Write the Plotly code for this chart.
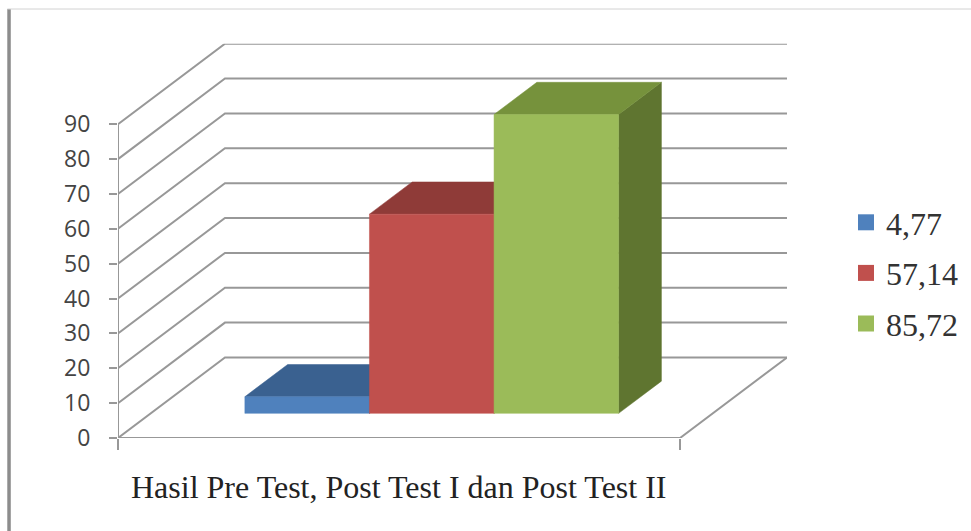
import plotly.graph_objects as go

# Series shown in the chart
series_labels = ["4,77", "57,14", "85,72"]
series_values = [4.77, 57.14, 85.72]
value_ticks = [0, 10, 20, 30, 40, 50, 60, 70, 80, 90]
axis_title = "Hasil Pre Test, Post Test I dan Post Test II"

front_colors = ["#4F81BD", "#C0504D", "#9BBB59"]
top_colors = ["#3A6190", "#8F3B38", "#76923C"]
side_colors = ["#2F4B6E", "#772C2A", "#5F7530"]
grid_color = "#989898"

# Oblique projection: a full step back in depth moves a point by these data offsets
DEPTH_X = 0.571
DEPTH_Y = 23.1
# Bar placement inside a unit category slot and inside the floor depth
BAR_WIDTH = 0.665
BAR_FRONT = 0.306
BAR_DEPTH = 0.4


def project(x, y, depth):
    return x + DEPTH_X * depth, y + DEPTH_Y * depth


def polygon(points):
    xs, ys = zip(*[project(*p) for p in points])
    return list(xs) + [xs[0]], list(ys) + [ys[0]]


fig = go.Figure()


def add_line(points):
    xs, ys = zip(*[project(*p) for p in points])
    fig.add_trace(go.Scatter(x=xs, y=ys, mode="lines", showlegend=False, hoverinfo="skip",
                             line=dict(color=grid_color, width=2)))


def add_face(points, color):
    xs, ys = polygon(points)
    fig.add_trace(go.Scatter(x=xs, y=ys, mode="lines", fill="toself", fillcolor=color,
                             showlegend=False, hoverinfo="skip",
                             line=dict(color=color, width=0.5)))


# Walls and floor
n_cat = len(series_values)
for v in value_ticks:
    add_line([(0, v, 0), (0, v, 1), (n_cat, v, 1)])
add_line([(0, 0, 0), (0, value_ticks[-1], 0)])
add_line([(0, 0, 0), (n_cat, 0, 0), (n_cat, 0, 1)])

# One block per series, drawn left to right so each covers the previous one
for i, v in enumerate(series_values):
    x0 = (n_cat - BAR_WIDTH * n_cat) / 2 + i * BAR_WIDTH
    x1 = x0 + BAR_WIDTH
    d0, d1 = BAR_FRONT, BAR_FRONT + BAR_DEPTH
    add_face([(x1, 0, d0), (x1, 0, d1), (x1, v, d1), (x1, v, d0)], side_colors[i])
    add_face([(x0, v, d0), (x0, v, d1), (x1, v, d1), (x1, v, d0)], top_colors[i])
    add_face([(x0, 0, d0), (x1, 0, d0), (x1, v, d0), (x0, v, d0)], front_colors[i])

# Legend entries
for label, color in zip(series_labels, front_colors):
    fig.add_trace(go.Scatter(x=[None], y=[None], mode="markers", name=label, legendgroup=label,
                             marker=dict(symbol="square", size=16, color=color, line=dict(width=0))))

fig.add_annotation(x=n_cat / 2, y=0, xref="x", yref="y", yshift=-49, text=axis_title,
                   showarrow=False, font=dict(family="Liberation Serif", size=32, color="#222222"))

# Page frame
frame = dict(xref="paper", yref="paper", layer="below")
fig.add_shape(type="line", x0=0.0093, x1=0.0093, y0=0, y1=0.983,
              line=dict(color="#8C8C8C", width=3.5), **frame)
fig.add_shape(type="line", x0=0.0075, x1=1, y0=0.983, y1=0.983,
              line=dict(color="#D2D2D2", width=1), **frame)

fig.update_layout(
    width=971, height=531, margin=dict(l=0, r=0, t=0, b=0, pad=0),
    paper_bgcolor="white", plot_bgcolor="white", autosize=False,
    xaxis=dict(domain=[118 / 971, 787 / 971], range=[0, n_cat + DEPTH_X], showgrid=False,
               automargin=False,
               zeroline=False, showline=False, tickvals=[0, n_cat], ticktext=["", ""],
               ticks="outside", ticklen=11, tickwidth=2, tickcolor=grid_color),
    yaxis=dict(domain=[(531 - 438) / 531, (531 - 43.7) / 531], range=[0, value_ticks[-1] + DEPTH_Y],
               automargin=False,
               showgrid=False, zeroline=False, showline=False, tickvals=value_ticks,
               ticks="outside", ticklen=8, tickwidth=2, tickcolor=grid_color,
               ticklabelstandoff=14,
               tickfont=dict(family="Open Sans", size=23, color="#444444")),
    legend=dict(x=846 / 971, xanchor="left", y=(531 - 273) / 531, yanchor="middle",
                tracegroupgap=6, bgcolor="rgba(0,0,0,0)", borderwidth=0,
                entrywidth=70, entrywidthmode="pixels",
                font=dict(family="Liberation Serif", size=32, color="#333333")),
)

fig.write_html("out.html")
